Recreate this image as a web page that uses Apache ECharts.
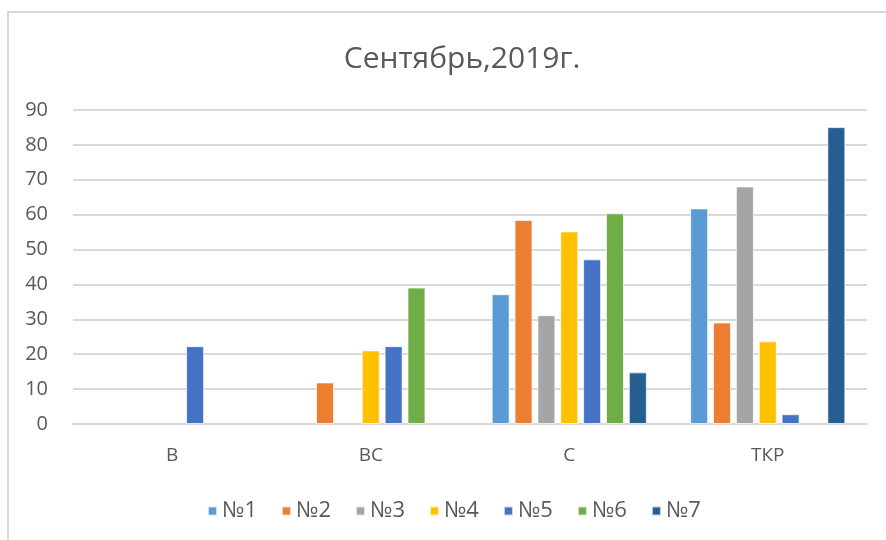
<!DOCTYPE html>
<html>
<head>
<meta charset="utf-8">
<script src="https://cdn.jsdelivr.net/npm/echarts@6/dist/echarts.min.js"></script>
<style>html,body{margin:0;padding:0;background:#fff;}#c{width:886px;height:540px;}</style>
</head>
<body>
<div id="c"></div>
<script>
const categories = ['В', 'ВС', 'С', 'ТКР'];
const seriesNames = ['№1', '№2', '№3', '№4', '№5', '№6', '№7'];
const s1 = [null, null, 37.2, 61.8];
const s2 = [null, 11.9, 58.5, 29.1];
const s3 = [null, null, 31.2, 68.1];
const s4 = [null, 21.1, 55.2, 23.7];
const s5 = [22.3, 22.3, 47.2, 2.8];
const s6 = [null, 39.1, 60.4, null];
const s7 = [null, null, 14.8, 85.1];
const yTicks = [0, 10, 20, 30, 40, 50, 60, 70, 80, 90];
const colors = ['#5B9BD5', '#ED7D31', '#A5A5A5', '#FFC000', '#4472C4', '#70AD47', '#255E91'];
const allValues = [s1, s2, s3, s4, s5, s6, s7];

const FONT = "'Open Sans', 'Noto Sans', sans-serif";
const chart = echarts.init(document.getElementById('c'), null, {renderer: 'canvas'});
chart.setOption({
  animation: false,
  color: colors,
  title: {
    text: 'Сентябрь,2019г.',
    left: 457,
    textAlign: 'center',
    top: 39,
    textStyle: {fontFamily: FONT, fontSize: 30, fontWeight: 'normal', color: '#595959'}
  },
  graphic: [{
    type: 'rect',
    shape: {x: 8, y: 12, width: 900, height: 600},
    style: {fill: 'none', stroke: '#d9d9d9', lineWidth: 2},
    silent: true
  }],
  legend: {
    top: 495,
    left: 202,
    itemWidth: 9,
    itemHeight: 9,
    itemGap: 24,
    icon: 'rect',
    textStyle: {fontFamily: FONT, fontSize: 22, color: '#595959'},
    data: seriesNames
  },
  grid: {left: 73, right: 19, top: 110, bottom: 116, containLabel: false},
  xAxis: {
    type: 'category',
    data: categories,
    axisLine: {show: true, lineStyle: {color: '#d9d9d9', width: 2}},
    axisTick: {show: false},
    axisLabel: {fontFamily: FONT, fontSize: 19, color: '#595959', margin: 22}
  },
  yAxis: {
    type: 'value',
    min: yTicks[0],
    max: yTicks[yTicks.length - 1],
    interval: 10,
    axisLine: {show: false},
    axisTick: {show: false},
    splitLine: {lineStyle: {color: '#d9d9d9', width: 2}},
    axisLabel: {fontFamily: FONT, fontSize: 20, color: '#595959', margin: 25}
  },
  series: seriesNames.map((n, i) => ({
    name: n,
    type: 'bar',
    data: allValues[i],
    barWidth: 18,
    barGap: '27%',
    itemStyle: {color: colors[i], borderColor: 'rgba(255,255,255,0.7)', borderWidth: 1}
  }))
});
</script>
</body>
</html>
